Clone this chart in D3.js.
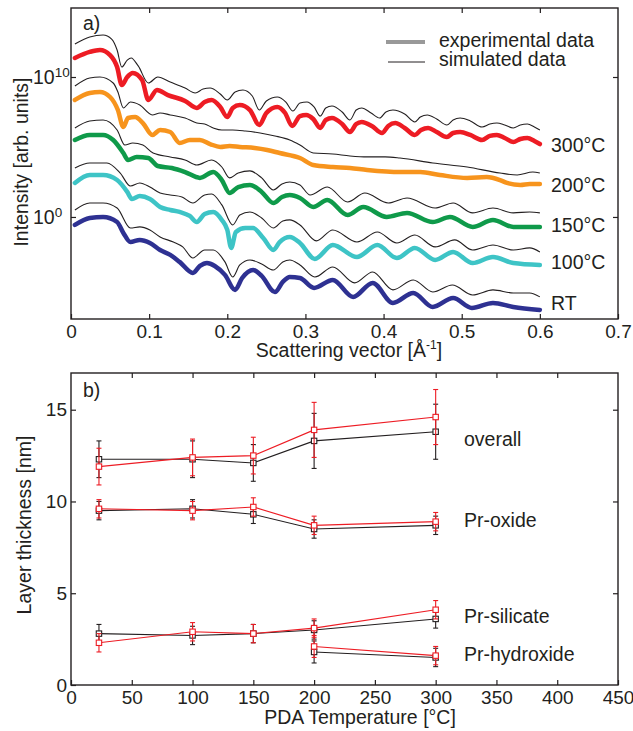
<!DOCTYPE html>
<html lang="en">
<head>
<meta charset="UTF-8">
<title>XRR curves and layer thickness</title>
<script src="https://cdn.jsdelivr.net/npm/d3@7"></script>
<style>
    body { margin: 0; background: #fff; }
    svg text { font-family: "Liberation Sans", Arial, Helvetica, sans-serif; fill: #231f20; font-size: 19.5px; }
    svg .tick text { font-size: 19px; }
</style>
</head>
<body>
<div id="chart"></div>
<script>
    // ---- panel a: reflectivity curves, [q (1/A), log10 intensity] ----
    var sim300 = [[0.005,12.36],[0.024,12.86],[0.041,13.0],[0.052,12.71],[0.059,11.93],[0.065,10.71],[0.072,11.21],[0.077,11.36],[0.086,10.79],[0.099,9.57],[0.111,10.0],[0.127,9.64],[0.146,9.21],[0.159,8.86],[0.169,9.14],[0.178,9.21],[0.191,8.79],[0.200,8.36],[0.210,8.93],[0.220,9.07],[0.232,8.64],[0.241,7.64],[0.250,8.29],[0.264,8.57],[0.275,8.21],[0.284,7.57],[0.293,8.14],[0.302,8.21],[0.311,7.86],[0.319,7.21],[0.326,7.79],[0.334,7.93],[0.347,7.5],[0.357,6.93],[0.365,7.64],[0.372,7.79],[0.384,7.43],[0.395,7.07],[0.403,7.5],[0.412,7.64],[0.427,7.36],[0.440,6.79],[0.447,7.14],[0.456,7.29],[0.468,7.0],[0.481,6.57],[0.489,6.93],[0.498,7.07],[0.511,6.86],[0.526,6.43],[0.536,6.64],[0.545,6.71],[0.555,6.57],[0.566,6.36],[0.575,6.57],[0.584,6.64],[0.593,6.43],[0.600,6.21]];
    var exp300 = [[0.005,11.36],[0.024,11.79],[0.037,11.93],[0.050,11.57],[0.059,10.71],[0.065,9.43],[0.072,10.0],[0.079,10.29],[0.091,9.79],[0.099,8.36],[0.110,9.07],[0.124,8.71],[0.146,8.29],[0.161,7.79],[0.171,8.21],[0.180,8.36],[0.191,7.86],[0.200,7.14],[0.207,7.79],[0.216,8.0],[0.229,7.64],[0.241,6.57],[0.250,7.43],[0.264,7.86],[0.274,7.43],[0.283,6.5],[0.293,7.21],[0.301,7.29],[0.310,7.0],[0.319,6.36],[0.326,6.93],[0.334,7.07],[0.347,6.64],[0.357,6.07],[0.365,6.64],[0.372,6.79],[0.385,6.5],[0.398,6.0],[0.406,6.5],[0.415,6.71],[0.427,6.36],[0.440,5.86],[0.448,6.21],[0.457,6.36],[0.468,6.07],[0.481,5.71],[0.489,6.0],[0.498,6.07],[0.511,5.86],[0.526,5.5],[0.536,5.79],[0.545,5.86],[0.555,5.64],[0.566,5.36],[0.575,5.57],[0.584,5.64],[0.593,5.43],[0.600,5.21]];
    var sim200 = [[0.005,9.36],[0.024,9.93],[0.037,10.0],[0.054,9.57],[0.060,8.93],[0.067,7.79],[0.076,8.21],[0.088,8.0],[0.104,7.29],[0.114,7.43],[0.127,7.29],[0.146,7.07],[0.161,6.71],[0.171,6.64],[0.182,6.36],[0.193,6.21],[0.207,6.21],[0.223,6.14],[0.242,6.0],[0.261,5.79],[0.280,5.5],[0.293,5.14],[0.310,4.57],[0.335,4.5],[0.357,4.36],[0.379,4.29],[0.402,4.29],[0.421,4.21],[0.463,3.86],[0.507,3.57],[0.549,3.14],[0.571,3.0],[0.591,3.21],[0.600,3.14]];
    var exp200 = [[0.005,8.36],[0.024,8.86],[0.037,8.93],[0.050,8.57],[0.060,7.64],[0.067,6.43],[0.073,7.07],[0.082,7.14],[0.092,6.71],[0.104,5.86],[0.114,6.21],[0.127,6.07],[0.139,5.29],[0.152,5.5],[0.165,5.5],[0.178,5.21],[0.191,5.0],[0.203,5.07],[0.216,5.0],[0.235,4.93],[0.251,4.79],[0.267,4.57],[0.293,4.21],[0.310,3.71],[0.335,3.57],[0.357,3.5],[0.379,3.36],[0.421,3.21],[0.447,3.21],[0.472,3.0],[0.507,2.79],[0.532,2.86],[0.549,2.64],[0.558,2.43],[0.575,2.29],[0.587,2.36],[0.600,2.36]];
    var sim150 = [[0.005,6.36],[0.024,6.86],[0.041,6.93],[0.059,6.21],[0.069,5.14],[0.079,5.29],[0.092,5.14],[0.105,4.57],[0.127,4.29],[0.146,4.07],[0.161,3.71],[0.180,4.07],[0.193,3.57],[0.203,2.79],[0.214,3.14],[0.229,3.29],[0.244,2.79],[0.259,1.93],[0.270,2.36],[0.280,2.5],[0.293,2.29],[0.306,1.57],[0.328,2.14],[0.354,1.07],[0.376,1.71],[0.406,1.0],[0.430,1.36],[0.466,0.64],[0.489,1.0],[0.514,0.29],[0.540,0.64],[0.566,0.29],[0.587,0.36],[0.600,0.29]];
    var exp150 = [[0.005,5.5],[0.024,5.86],[0.041,5.86],[0.054,5.5],[0.067,4.57],[0.073,4.07],[0.084,4.29],[0.099,4.21],[0.111,3.64],[0.129,3.5],[0.146,3.21],[0.165,2.79],[0.182,3.21],[0.193,2.64],[0.203,1.71],[0.214,2.14],[0.229,2.29],[0.244,1.79],[0.259,1.0],[0.270,1.43],[0.280,1.57],[0.293,1.36],[0.310,0.71],[0.328,1.21],[0.354,0.14],[0.374,0.71],[0.404,0],[0.430,0.29],[0.463,-0.36],[0.485,0],[0.514,-0.71],[0.540,-0.21],[0.566,-0.71],[0.600,-0.71]];
    var sim100 = [[0.005,3.5],[0.024,3.86],[0.046,3.86],[0.063,3.14],[0.076,2.21],[0.088,2.43],[0.101,2.14],[0.114,1.71],[0.127,1.57],[0.142,1.43],[0.156,1.0],[0.171,1.57],[0.180,1.64],[0.193,0.86],[0.207,-0.57],[0.216,0.14],[0.229,0.36],[0.244,-0.07],[0.259,-0.79],[0.271,-0.29],[0.280,-0.21],[0.293,-0.57],[0.314,-1.71],[0.335,-0.93],[0.366,-1.79],[0.392,-1.07],[0.417,-1.86],[0.440,-1.29],[0.466,-2.14],[0.491,-1.64],[0.514,-2.36],[0.540,-2.0],[0.566,-2.36],[0.587,-2.21],[0.600,-2.5]];
    var exp100 = [[0.005,2.43],[0.024,3.0],[0.041,3.0],[0.059,2.64],[0.072,1.79],[0.078,1.29],[0.088,1.5],[0.101,1.29],[0.114,0.71],[0.127,0.5],[0.139,0.36],[0.152,0.07],[0.161,-0.36],[0.171,0.21],[0.182,0.36],[0.193,-0.21],[0.200,-0.93],[0.205,-2.21],[0.211,-1.07],[0.223,-0.79],[0.233,-0.79],[0.246,-1.5],[0.259,-2.36],[0.267,-1.79],[0.280,-1.43],[0.293,-1.86],[0.312,-3.0],[0.335,-2.0],[0.366,-2.86],[0.392,-2.0],[0.417,-2.93],[0.440,-2.21],[0.466,-3.07],[0.489,-2.5],[0.514,-3.29],[0.540,-2.86],[0.566,-3.29],[0.600,-3.43]];
    var simRT = [[0.005,0.5],[0.024,1.0],[0.041,1.0],[0.059,0.64],[0.076,-0.79],[0.088,-0.71],[0.101,-0.93],[0.114,-1.43],[0.131,-1.79],[0.143,-2.14],[0.156,-2.93],[0.171,-2.36],[0.182,-2.36],[0.197,-3.21],[0.207,-4.29],[0.216,-3.43],[0.229,-3.07],[0.244,-3.36],[0.259,-3.79],[0.271,-3.21],[0.280,-3.07],[0.293,-3.43],[0.312,-4.29],[0.335,-3.57],[0.363,-4.71],[0.386,-3.93],[0.412,-5.21],[0.438,-4.5],[0.463,-5.36],[0.488,-4.86],[0.514,-5.57],[0.540,-5.21],[0.566,-5.43],[0.587,-5.43],[0.600,-5.71]];
    var expRT = [[0.005,-0.57],[0.024,-0.07],[0.041,0],[0.059,-0.36],[0.067,-1.14],[0.076,-1.79],[0.088,-1.64],[0.101,-1.86],[0.114,-2.36],[0.127,-2.71],[0.139,-3.21],[0.156,-4.0],[0.165,-3.5],[0.174,-3.29],[0.184,-3.5],[0.197,-4.14],[0.210,-5.21],[0.219,-4.36],[0.233,-3.79],[0.244,-4.21],[0.261,-5.36],[0.271,-4.64],[0.280,-4.29],[0.293,-4.36],[0.311,-5.07],[0.335,-4.5],[0.361,-5.71],[0.386,-4.71],[0.412,-6.14],[0.438,-5.43],[0.463,-6.43],[0.489,-5.79],[0.513,-6.5],[0.540,-6.14],[0.566,-6.43],[0.600,-6.64]];

    var curveNames = ['300°C', '200°C', '150°C', '100°C', 'RT'];
    var curveColors = ['#ed1c24', '#f7941d', '#0f9a4a', '#3ec4c6', '#2e3192'];
    var xTicksA = [0, 0.1, 0.2, 0.3, 0.4, 0.5, 0.6, 0.7];
    var yTicksA = [1, 1e10];

    // ---- panel b: layer thickness (nm) vs PDA temperature ----
    var temps = [23, 100, 150, 200, 300];
    var tempsHyd = [200, 300];
    var overallBlack = [12.3, 12.3, 12.1, 13.3, 13.8];
    var overallRed = [11.9, 12.4, 12.5, 13.9, 14.6];
    var overallErr = [1, 1, 1, 1.5, 1.5];
    var oxideBlack = [9.5, 9.6, 9.3, 8.5, 8.7];
    var oxideRed = [9.6, 9.5, 9.7, 8.7, 8.9];
    var oxideErr = [0.5, 0.5, 0.5, 0.5, 0.5];
    var silicateBlack = [2.8, 2.7, 2.8, 3.0, 3.6];
    var silicateRed = [2.3, 2.9, 2.8, 3.1, 4.1];
    var silicateErr = [0.5, 0.5, 0.5, 0.5, 0.5];
    var hydroxideBlack = [1.8, 1.5];
    var hydroxideRed = [2.1, 1.6];
    var hydroxideErr = [0.6, 0.5];
    var layerNames = ['overall', 'Pr-oxide', 'Pr-silicate', 'Pr-hydroxide'];
    var xTicksB = [0, 50, 100, 150, 200, 250, 300, 350, 400, 450];
    var yTicksB = [0, 5, 10, 15];

    var ink = '#231f20';
    var svg = d3.select('#chart').append('svg')
        .attr('width', 633)
        .attr('height', 731);

    function cleanAxis(g) {
        g.attr('font-size', null).attr('font-family', null).attr('color', ink);
        g.select('.domain').remove();
        g.selectAll('line').attr('stroke-width', 1.2);
    }

    // ================= panel a =================
    var xa = d3.scaleLinear().domain([0, 0.7]).range([71, 618]);
    var ya = d3.scaleLog().domain([Math.pow(10, -7.29), Math.pow(10, 14.93)]).range([319, 8]);

    svg.append('g').attr('transform', 'translate(0,319)')
        .call(d3.axisBottom(xa).tickValues(xTicksA).tickSizeInner(-5).tickSizeOuter(0).tickPadding(6)
            .tickFormat(function (d) { return d === 0 ? '0' : d3.format('.1f')(d); }))
        .call(cleanAxis);
    svg.append('g').attr('transform', 'translate(0,8)')
        .call(d3.axisTop(xa).tickValues(xTicksA.slice(1, -1)).tickSizeInner(-5).tickSizeOuter(0).tickFormat(''))
        .call(cleanAxis);
    svg.append('g').attr('transform', 'translate(71,0)')
        .call(d3.axisLeft(ya).tickValues(yTicksA).tickSizeInner(-5).tickSizeOuter(0).tickFormat(''))
        .call(cleanAxis);
    svg.append('g').attr('transform', 'translate(618,0)')
        .call(d3.axisRight(ya).tickValues(yTicksA).tickSizeInner(-5).tickSizeOuter(0).tickFormat(''))
        .call(cleanAxis);

    // 10^n labels
    yTicksA.forEach(function (v) {
        var t = svg.append('text').attr('x', 33).attr('y', ya(v) + 7);
        t.append('tspan').text('10');
        t.append('tspan').attr('dy', -7).style('font-size', '13.5px').text(Math.round(Math.log10(v)));
    });

    var lineA = d3.line()
        .x(function (d) { return xa(d[0]); })
        .y(function (d) { return ya(Math.pow(10, d[1])); })
        .curve(d3.curveMonotoneX);

    var sims = [sim300, sim200, sim150, sim100, simRT];
    var exps = [exp300, exp200, exp150, exp100, expRT];

    var plotA = svg.append('g');
    exps.forEach(function (d, i) {
        plotA.append('path').datum(d)
            .attr('d', lineA)
            .attr('fill', 'none')
            .attr('stroke', curveColors[i])
            .attr('stroke-width', 4.5)
            .attr('stroke-linejoin', 'round')
            .attr('stroke-linecap', 'round');
    });
    sims.forEach(function (d) {
        plotA.append('path').datum(d)
            .attr('d', lineA)
            .attr('fill', 'none')
            .attr('stroke', ink)
            .attr('stroke-width', 1.1);
    });

    var labelYA = [152, 192, 232, 269, 310];
    curveNames.forEach(function (n, i) {
        svg.append('text').attr('x', 551).attr('y', labelYA[i]).text(n);
    });

    // legend
    svg.append('line').attr('x1', 386).attr('x2', 425).attr('y1', 42).attr('y2', 42)
        .attr('stroke', '#999').attr('stroke-width', 4);
    svg.append('line').attr('x1', 388).attr('x2', 425).attr('y1', 62).attr('y2', 62)
        .attr('stroke', ink).attr('stroke-width', 1);
    svg.append('text').attr('x', 439).attr('y', 47).text('experimental data');
    svg.append('text').attr('x', 439).attr('y', 66).text('simulated data');

    svg.append('rect').attr('x', 71).attr('y', 8).attr('width', 547).attr('height', 311)
        .attr('fill', 'none').attr('stroke', ink).attr('stroke-width', 1.4);

    svg.append('text').attr('x', 83).attr('y', 30).text('a)');
    var xlabA = svg.append('text').attr('x', 349).attr('y', 357).attr('text-anchor', 'middle');
    xlabA.append('tspan').text('Scattering vector [Å');
    xlabA.append('tspan').attr('dy', -8).style('font-size', '12px').text('-1');
    xlabA.append('tspan').attr('dy', 8).text(']');
    svg.append('text').attr('transform', 'translate(28,162) rotate(-90)')
        .attr('text-anchor', 'middle').text('Intensity [arb. units]');

    // ================= panel b =================
    var xb = d3.scaleLinear().domain([0, 450]).range([71, 618]);
    var yb = d3.scaleLinear().domain([0, 17]).range([685, 373]);

    svg.append('g').attr('transform', 'translate(0,685)')
        .call(d3.axisBottom(xb).tickValues(xTicksB).tickSizeInner(-5).tickSizeOuter(0).tickPadding(6))
        .call(cleanAxis);
    svg.append('g').attr('transform', 'translate(0,373)')
        .call(d3.axisTop(xb).tickValues(xTicksB.slice(1, -1)).tickSizeInner(-5).tickSizeOuter(0).tickFormat(''))
        .call(cleanAxis);
    svg.append('g').attr('transform', 'translate(71,0)')
        .call(d3.axisLeft(yb).tickValues(yTicksB).tickSizeInner(-5).tickSizeOuter(0).tickPadding(4))
        .call(cleanAxis);
    svg.append('g').attr('transform', 'translate(618,0)')
        .call(d3.axisRight(yb).tickValues(yTicksB.slice(1)).tickSizeInner(-5).tickSizeOuter(0).tickFormat(''))
        .call(cleanAxis);

    var seriesB = [
        {t: temps, v: overallBlack, e: overallErr, c: ink},
        {t: temps, v: oxideBlack, e: oxideErr, c: ink},
        {t: temps, v: silicateBlack, e: silicateErr, c: ink},
        {t: tempsHyd, v: hydroxideBlack, e: hydroxideErr, c: ink},
        {t: temps, v: overallRed, e: overallErr, c: '#ed1c24'},
        {t: temps, v: oxideRed, e: oxideErr, c: '#ed1c24'},
        {t: temps, v: silicateRed, e: silicateErr, c: '#ed1c24'},
        {t: tempsHyd, v: hydroxideRed, e: hydroxideErr, c: '#ed1c24'}
    ];

    var lineB = d3.line()
        .x(function (d) { return xb(d.t); })
        .y(function (d) { return yb(d.v); });

    var plotB = svg.append('g');
    seriesB.forEach(function (s) {
        var pts = s.t.map(function (t, i) { return {t: t, v: s.v[i], e: s.e[i]}; });
        var g = plotB.append('g');
        g.append('path').datum(pts).attr('d', lineB)
            .attr('fill', 'none').attr('stroke', s.c).attr('stroke-width', 1.1);
        var eb = g.selectAll('g.eb').data(pts).enter().append('g').attr('class', 'eb');
        eb.append('line')
            .attr('x1', function (d) { return xb(d.t); })
            .attr('x2', function (d) { return xb(d.t); })
            .attr('y1', function (d) { return yb(d.v - d.e); })
            .attr('y2', function (d) { return yb(d.v + d.e); })
            .attr('stroke', s.c).attr('stroke-width', 1.1);
        [-1, 1].forEach(function (sg) {
            eb.append('line')
                .attr('x1', function (d) { return xb(d.t) - 2.5; })
                .attr('x2', function (d) { return xb(d.t) + 2.5; })
                .attr('y1', function (d) { return yb(d.v + sg * d.e); })
                .attr('y2', function (d) { return yb(d.v + sg * d.e); })
                .attr('stroke', s.c).attr('stroke-width', 1.1);
        });
        eb.append('rect')
            .attr('x', function (d) { return xb(d.t) - 2.7; })
            .attr('y', function (d) { return yb(d.v) - 2.7; })
            .attr('width', 5.4).attr('height', 5.4)
            .attr('fill', '#fff').attr('stroke', s.c).attr('stroke-width', 1.1);
    });

    var labelYB = [13.0, 8.6, 3.4, 1.3];
    layerNames.forEach(function (n, i) {
        svg.append('text').attr('x', 464).attr('y', yb(labelYB[i])).text(n);
    });

    svg.append('rect').attr('x', 71).attr('y', 373).attr('width', 547).attr('height', 312)
        .attr('fill', 'none').attr('stroke', ink).attr('stroke-width', 1.4);

    svg.append('text').attr('x', 83).attr('y', 397).text('b)');
    svg.append('text').attr('x', 360).attr('y', 724).attr('text-anchor', 'middle').text('PDA Temperature [°C]');
    svg.append('text').attr('transform', 'translate(31,525) rotate(-90)')
        .attr('text-anchor', 'middle').text('Layer thickness [nm]');
</script>
</body>
</html>
